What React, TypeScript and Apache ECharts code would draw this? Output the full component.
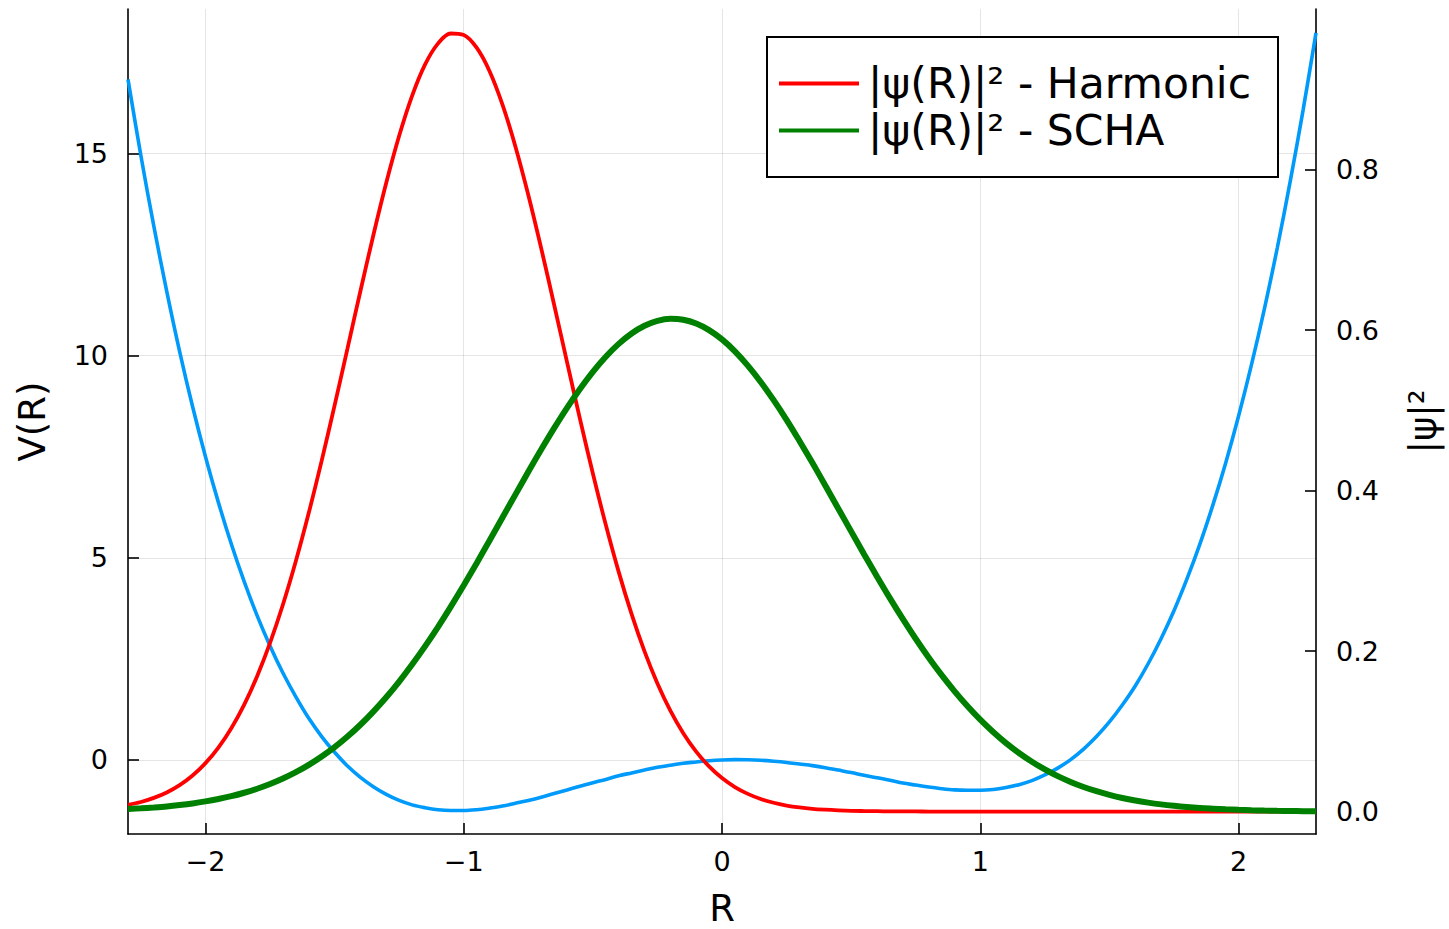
import React, { useEffect, useRef } from 'react';
import * as echarts from 'echarts';

// Sample positions R (step 0.05)
const R = [
  -2.3, -2.25, -2.2, -2.15, -2.1, -2.05, -2.0, -1.95, -1.9, -1.85, -1.8, -1.75,
  -1.7, -1.65, -1.6, -1.55, -1.5, -1.45, -1.4, -1.35, -1.3, -1.25, -1.2, -1.15,
  -1.1, -1.05, -1.0, -0.95, -0.9, -0.85, -0.8, -0.75, -0.7, -0.65, -0.6, -0.55,
  -0.5, -0.45, -0.4, -0.35, -0.3, -0.25, -0.2, -0.15, -0.1, -0.05, 0.0, 0.05,
  0.1, 0.15, 0.2, 0.25, 0.3, 0.35, 0.4, 0.45, 0.5, 0.55, 0.6, 0.65,
  0.7, 0.75, 0.8, 0.85, 0.9, 0.95, 1.0, 1.05, 1.1, 1.15, 1.2, 1.25,
  1.3, 1.35, 1.4, 1.45, 1.5, 1.55, 1.6, 1.65, 1.7, 1.75, 1.8, 1.85,
  1.9, 1.95, 2.0, 2.05, 2.1, 2.15, 2.2, 2.25, 2.3,
];

// Potential V(R) (left axis)
const potentialV = [
  16.83, 14.94, 13.2, 11.59, 10.1, 8.74, 7.5, 6.37, 5.34, 4.41, 3.57, 2.82,
  2.15, 1.56, 1.03, 0.58, 0.19, -0.15, -0.43, -0.66, -0.85, -1.0, -1.11, -1.18,
  -1.23, -1.25, -1.25, -1.23, -1.19, -1.14, -1.07, -1.0, -0.92, -0.83, -0.74, -0.65,
  -0.56, -0.48, -0.39, -0.32, -0.25, -0.18, -0.13, -0.08, -0.05, -0.02, 0.0, 0.008,
  0.005, -0.007, -0.03, -0.06, -0.1, -0.14, -0.19, -0.25, -0.31, -0.38, -0.44, -0.5,
  -0.57, -0.62, -0.67, -0.71, -0.74, -0.75, -0.75, -0.73, -0.68, -0.61, -0.51, -0.37,
  -0.2, 0.01, 0.27, 0.58, 0.94, 1.36, 1.83, 2.38, 3.0, 3.69, 4.47, 5.33,
  6.29, 7.34, 8.5, 9.77, 11.15, 12.66, 14.3, 16.07, 17.98,
];

// |psi(R)|^2 - Harmonic (right axis)
const psiHarmonic = [
  0.0083, 0.0119, 0.017, 0.0238, 0.0329, 0.0449, 0.0603, 0.0797, 0.1038, 0.1332, 0.1686, 0.2101,
  0.258, 0.3122, 0.3722, 0.4372, 0.5061, 0.5771, 0.6486, 0.7181, 0.7834, 0.842, 0.8918, 0.9307,
  0.9569, 0.9695, 0.9677, 0.9518, 0.9225, 0.8808, 0.8287, 0.7682, 0.7017, 0.6315, 0.56, 0.4893,
  0.4212, 0.3573, 0.2986, 0.2459, 0.1995, 0.1595, 0.1257, 0.0975, 0.0746, 0.0562, 0.0417, 0.0305,
  0.022, 0.0156, 0.0109, 0.0075, 0.0051, 0.0034, 0.0023, 0.0015, 0.0009, 0.0006, 0.0004, 0.0002,
  0.0001, 0.0001, 0, 0, 0, 0, 0, 0, 0, 0, 0, 0,
  0, 0, 0, 0, 0, 0, 0, 0, 0, 0, 0, 0,
  0, 0, 0, 0, 0, 0, 0, 0, 0,
];

// |psi(R)|^2 - SCHA (right axis)
const psiSCHA = [
  0.0031, 0.004, 0.0051, 0.0064, 0.0081, 0.0101, 0.0126, 0.0156, 0.0191, 0.0234, 0.0284, 0.0343,
  0.0411, 0.049, 0.0581, 0.0685, 0.0802, 0.0934, 0.1081, 0.1245, 0.1424, 0.162, 0.1832, 0.2058,
  0.2299, 0.2554, 0.282, 0.3095, 0.3377, 0.3663, 0.3949, 0.4233, 0.451, 0.4777, 0.503, 0.5265,
  0.5479, 0.5667, 0.5827, 0.5957, 0.6053, 0.6114, 0.6139, 0.6128, 0.6081, 0.5999, 0.5883, 0.5735,
  0.5557, 0.5353, 0.5126, 0.4881, 0.4618, 0.4345, 0.4063, 0.3777, 0.3491, 0.3207, 0.2929, 0.2659,
  0.24, 0.2153, 0.192, 0.1702, 0.1501, 0.1315, 0.1145, 0.0992, 0.0853, 0.073, 0.0621, 0.0525,
  0.0441, 0.0369, 0.0306, 0.0253, 0.0208, 0.0169, 0.0137, 0.0111, 0.0089, 0.0071, 0.0056, 0.0044,
  0.0035, 0.0027, 0.0021, 0.0016, 0.0012, 0.0009, 0.0007, 0.0005, 0.0004,
];

const xTicks = [-2, -1, 0, 1, 2];
const vTicks = [0, 5, 10, 15];
const psiTicks = [0, 0.2, 0.4, 0.6, 0.8];
const legendNames = ['|ψ(R)|² - Harmonic', '|ψ(R)|² - SCHA'];

export default function App() {
  const ref = useRef<HTMLDivElement>(null);

  useEffect(() => {
    const chart = echarts.init(ref.current!, null, { renderer: 'svg' });
    const font = 'DejaVu Sans';
    const pair = (ys: number[]) => R.map((x, i) => [x, ys[i]]);
    const axisLine = { show: true, onZero: false, lineStyle: { color: '#000', width: 1.6 } };
    const tickStyle = { color: '#000', width: 1.6 };
    const labelBase = { color: '#000', fontSize: 27, fontFamily: font };
    const nameStyle = { color: '#000', fontSize: 37, fontFamily: font };
    const gridLine = { show: true, lineStyle: { color: 'rgba(0,0,0,0.1)', width: 1 } };

    chart.setOption({
      animation: false,
      backgroundColor: '#ffffff',
      grid: { left: 128, right: 133, top: 9, bottom: 95, containLabel: false, outerBoundsMode: 'none' },
      legend: {
        data: legendNames,
        orient: 'vertical',
        left: 767,
        top: 37,
        padding: [23, 27, 23, 12],
        icon: 'rect',
        itemWidth: 80,
        itemHeight: 3.8,
        itemGap: 0,
        borderColor: '#000',
        borderWidth: 2,
        borderRadius: 0,
        backgroundColor: '#fff',
        selectedMode: false,
        textStyle: { fontFamily: font, fontSize: 42.5, color: '#000', lineHeight: 47, padding: [0, 0, 0, 4] },
      },
      xAxis: {
        type: 'value',
        min: -2.3,
        max: 2.3,
        axisLine,
        axisTick: { show: true, inside: true, length: 11, lineStyle: tickStyle, customValues: xTicks },
        axisLabel: {
          ...labelBase,
          margin: 14,
          customValues: xTicks,
          formatter: (v: number) => String(v).replace('-', '\u2212'),
        },
        splitLine: gridLine,
        name: 'R',
        nameLocation: 'middle',
        nameGap: 56,
        nameTextStyle: nameStyle,
      },
      yAxis: [
        {
          type: 'value',
          position: 'left',
          min: -1.83,
          max: 18.57,
          axisLine,
          axisTick: { show: true, inside: true, length: 11, lineStyle: tickStyle, customValues: vTicks },
          axisLabel: { ...labelBase, margin: 20, customValues: vTicks },
          splitLine: gridLine,
          name: 'V(R)',
          nameLocation: 'middle',
          nameGap: 77,
          nameRotate: 90,
          nameTextStyle: nameStyle,
        },
        {
          type: 'value',
          position: 'right',
          min: -0.028,
          max: 1.0,
          axisLine,
          axisTick: { show: true, inside: true, length: 11, lineStyle: tickStyle, customValues: psiTicks },
          axisLabel: {
            ...labelBase,
            margin: 20,
            customValues: psiTicks,
            formatter: (v: number) => v.toFixed(1),
          },
          splitLine: { show: false },
          name: '|ψ|²',
          nameLocation: 'middle',
          nameGap: 89,
          nameRotate: 90,
          nameTextStyle: nameStyle,
        },
      ],
      series: [
        {
          name: 'V(R)',
          type: 'line',
          yAxisIndex: 0,
          data: pair(potentialV),
          symbol: 'none',
          showSymbol: false,
          smooth: 0.35,
          color: '#009AFA',
          lineStyle: { color: '#009AFA', width: 3.6 },
        },
        {
          name: legendNames[0],
          type: 'line',
          yAxisIndex: 1,
          data: pair(psiHarmonic),
          symbol: 'none',
          showSymbol: false,
          smooth: 0.35,
          color: '#FF0000',
          lineStyle: { color: '#FF0000', width: 3.8 },
        },
        {
          name: legendNames[1],
          type: 'line',
          yAxisIndex: 1,
          data: pair(psiSCHA),
          symbol: 'none',
          showSymbol: false,
          smooth: 0.35,
          color: '#008000',
          lineStyle: { color: '#008000', width: 6 },
        },
      ],
    });

    return () => chart.dispose();
  }, []);

  return (
    <div
      ref={ref}
      style={{ position: 'absolute', left: 0, top: 0, width: 1449, height: 929, background: '#fff' }}
    />
  );
}
